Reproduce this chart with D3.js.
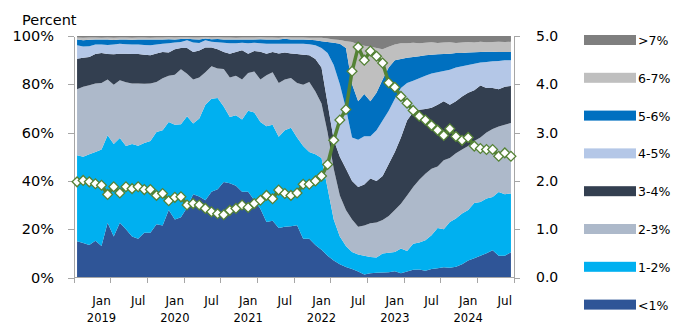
<!DOCTYPE html>
<html lang="en">
<head>
<meta charset="utf-8">
<title>Distribution by rate bucket</title>
<style>
  body { margin: 0; background: #fff; }
  .axis text, .label { font-family: "DejaVu Sans", Verdana, sans-serif; fill: #000; }
  .axis path, .axis line { stroke: #a6a6a6; shape-rendering: crispEdges; }
</style>
</head>
<body>
<div id="chart"></div>
<script src="https://cdn.jsdelivr.net/npm/d3@7/dist/d3.min.js"></script>
<script>

// monthly shares (%) Sep 2018 .. Aug 2024
var lt1 = [15,14.3,13.5,15.2,13,22.7,17,22.7,20,17,16,18.5,18.5,22,21.5,28,24,25,29,34.5,33.5,32,35.5,36.5,39.5,39,38,35.5,35.5,32,28.5,23,23.5,20.5,21,21.2,21.6,16,16,13.5,11.5,9,7,5.5,4.3,3.5,2.5,1.2,1.8,2,2.1,2.2,2.6,1.8,2.5,3.2,3.3,2.8,3.5,3.8,4.2,4,4.5,5.5,7,8,9,10,11.3,9,9,10.5];
var r12 = [35.6,35.7,37.5,36.8,40,36.2,38.3,35.1,34.5,38.3,38.6,37.2,38,38.3,39.5,36.4,39.2,38.5,37.8,29.3,32.3,39.5,38.5,37.8,31.3,27.5,29.2,29.9,33.5,36.3,35.9,39.6,39.7,37.8,40,40.8,36.4,38.5,36,37.5,38,28,17,11.5,8.7,7.1,7,7.8,6.7,6.3,7.8,8,8,10.2,8.5,10.8,11.2,12.6,14,16.7,15.8,19,19.9,21,20.9,22.9,22.3,22.7,22,26.4,25.5,24.3];
var r23 = [27.4,29,28.6,28.3,27.5,23.1,24.5,23.9,26.3,25,25.7,24.5,23.8,20.7,21.5,19.1,20.8,22.7,17.6,18.2,17,13.5,13.5,12.2,15.5,16.3,16.3,16.6,15.7,17,17.6,21.1,21.8,22.2,21,20.6,22.5,25.3,29,26,22.5,23,21,17,15,13.4,11.5,12.5,14,14.5,13.9,15.3,17.4,18.5,23,23.5,26,27.6,27.5,25.5,28.5,26.5,27.1,26.5,26.6,25.6,26.7,27.3,28.2,27.1,28.7,29.2];
var r34 = [12.6,12,11.7,12.2,12.5,10.5,12.6,11,11.9,12.2,12.2,12,11.7,11.8,10.9,9.7,10.5,8.8,10.6,11.4,11.2,10.2,7.7,8,7.1,9.9,9.9,12.1,8,8.5,11.5,9,8.4,12.3,11.2,10.2,12,12.4,11,13.5,15,12,12,16,17,16,16.5,17,18.5,17.2,18.2,21.5,24,27.5,31,31,29,26.8,25.3,25.5,24.5,22,21.5,22,22,21,21.5,18.5,17,15.5,15.8,15.3];
var r45 = [5.6,4.7,4.5,4,3.5,3.8,4.1,4.1,3.9,4,4,4.1,4.2,3.7,3.4,3.8,2.8,2.5,3.2,3.9,3.1,3,2.4,2.9,3.8,4.3,3.6,3.1,4.3,3.4,3.5,4.1,3.4,4,3.6,4,4.3,4.6,4.6,5.7,8,21,31,30,25,18,19.5,20,17.5,21,23,22,22,20.5,15.5,13,13,13.7,14.2,13.5,12.5,14.5,14,12.5,11.5,11,9.5,10.7,11,11.7,11,10.7];
var r56 = [2.3,2.5,2.6,2.1,2,2.3,1.8,1.8,1.9,1.9,2,2.3,2.3,2.1,1.7,1.7,1.3,1.3,0.7,1.4,1.4,0.8,1.1,1.4,1.4,1.6,1.5,1.4,1.5,1.4,1.7,1.7,1.8,1.7,2.1,1.8,1.8,1.7,1.8,2,2.8,4.5,9.2,16.8,25,22,16,17.5,14.5,15.5,17,18,16,12,10.5,9.8,9.1,8.5,7.7,7.4,7,6.7,6,5.5,5.2,4.8,4.4,4.3,4,3.7,3.4,3.4];
var r67 = [0.9,1.1,1,0.8,0.8,0.8,1,0.8,0.9,0.9,0.9,0.8,0.8,0.8,0.9,0.8,0.8,0.7,0.6,0.7,0.9,0.6,0.7,0.7,0.8,0.8,0.8,0.8,0.9,0.8,0.8,0.9,0.8,0.8,0.6,0.8,0.8,0.9,0.9,1.1,1.5,1.5,1.3,1.5,2.8,17.5,23.5,20,22.5,18.5,12.5,8.5,6.5,6.5,6,5.9,5.4,5.2,5.2,4.7,4.8,4.7,4.1,4.3,4.3,4,4.2,3.9,4,4.2,4.1,4.2];
var gt7 = [0.6,0.7,0.6,0.6,0.7,0.6,0.7,0.6,0.6,0.7,0.6,0.6,0.7,0.6,0.6,0.5,0.6,0.5,0.5,0.6,0.6,0.4,0.6,0.5,0.6,0.6,0.7,0.6,0.6,0.6,0.5,0.6,0.6,0.7,0.5,0.6,0.6,0.6,0.7,0.7,0.7,1,1.5,1.7,2.2,2.5,3.5,4,4.5,5,5.5,4.5,3.5,3,3,2.8,3,2.8,2.6,2.9,2.7,2.6,2.9,2.7,2.5,2.7,2.4,2.6,2.5,2.4,2.5,2.4];

// line on right axis
var rate = [1.98,2.01,1.98,1.94,1.91,1.72,1.88,1.75,1.88,1.84,1.88,1.82,1.82,1.70,1.74,1.59,1.66,1.67,1.50,1.53,1.50,1.43,1.36,1.32,1.30,1.39,1.43,1.50,1.45,1.53,1.60,1.70,1.63,1.81,1.74,1.70,1.75,1.93,1.93,2.00,2.10,2.34,2.84,3.26,3.48,4.27,4.77,4.50,4.69,4.58,4.44,4.03,3.94,3.75,3.61,3.46,3.34,3.26,3.15,3.05,2.94,3.08,2.92,2.84,2.90,2.72,2.67,2.65,2.65,2.51,2.58,2.51];

var seriesKeys = ["<1%", "1-2%", "2-3%", "3-4%", "4-5%", "5-6%", "6-7%", ">7%"];
var seriesVals = [lt1, r12, r23, r34, r45, r56, r67, gt7];
var colors = ["#2f5597", "#00b0f0", "#adb9ca", "#333f50", "#b4c7e7", "#0070c0", "#bfbfbf", "#7f7f7f"];

var leftTicks = [0, 20, 40, 60, 80, 100];
var rightTicks = [0, 1, 2, 3, 4, 5];

var months = d3.timeMonth.range(new Date(2018, 8, 1), new Date(2024, 8, 1));

var width = 673, height = 326;
var plot = {left: 74, right: 514, top: 36, bottom: 277.5};

var svg = d3.select("#chart").append("svg")
  .attr("width", width)
  .attr("height", height);

var x = d3.scaleBand().domain(d3.range(months.length)).range([plot.left, plot.right]).padding(0);
var bw = x.bandwidth();
function cx(i) { return x(i) + bw / 2; }

var yL = d3.scaleLinear().domain([0, 100]).range([plot.bottom, plot.top]);
var yR = d3.scaleLinear().domain([0, 5]).range([plot.bottom, plot.top]);

var table = months.map(function(m, i) {
  var row = {i: i};
  seriesKeys.forEach(function(k, j) { row[k] = seriesVals[j][i]; });
  return row;
});

var stack = d3.stack().keys(seriesKeys);
var layers = stack(table);

var area = d3.area()
  .x(function(d) { return cx(d.data.i); })
  .y0(function(d) { return yL(d[0]); })
  .y1(function(d) { return yL(d[1]); });

svg.append("g").selectAll("path")
  .data(layers)
  .enter().append("path")
  .attr("d", area)
  .attr("fill", function(d, i) { return colors[i]; });

// axes
var axL = svg.append("g")
  .attr("class", "axis")
  .attr("transform", "translate(" + plot.left + ",0)")
  .call(d3.axisLeft(yL).tickValues(leftTicks).tickSize(6).tickSizeOuter(0).tickPadding(14)
    .tickFormat(function(d) { return d + "%"; }));
axL.selectAll("text").style("font-size", "14.5px");

var axR = svg.append("g")
  .attr("class", "axis")
  .attr("transform", "translate(" + plot.right + ",0)")
  .call(d3.axisRight(yR).tickValues(rightTicks).tickSize(6).tickSizeOuter(0).tickPadding(16)
    .tickFormat(d3.format(".1f")));
axR.selectAll("text").style("font-size", "14px");

// bottom axis: ticks at every 6th month boundary, labels at Jan / Jul
var tickPos = d3.range(0, months.length + 1, 6).map(function(i) {
  return i < months.length ? x(i) : plot.right;
});
var axB = svg.append("g").attr("class", "axis");
axB.append("line")
  .attr("x1", plot.left).attr("x2", plot.right)
  .attr("y1", plot.bottom).attr("y2", plot.bottom);
axB.selectAll(".tk")
  .data(tickPos)
  .enter().append("line")
  .attr("class", "tk")
  .attr("x1", function(d) { return d; }).attr("x2", function(d) { return d; })
  .attr("y1", plot.bottom).attr("y2", plot.bottom + 5);

var labelled = months.map(function(m, i) { return {m: m, i: i}; })
  .filter(function(d) { return d.m.getMonth() === 0 || d.m.getMonth() === 6; });

axB.selectAll(".mon")
  .data(labelled)
  .enter().append("text")
  .attr("class", "mon")
  .attr("x", function(d) { return cx(d.i); })
  .attr("y", 305)
  .attr("text-anchor", "middle")
  .style("font-size", "12px")
  .text(function(d) { return d3.timeFormat("%b")(d.m); });

axB.selectAll(".yr")
  .data(labelled.filter(function(d) { return d.m.getMonth() === 0; }))
  .enter().append("text")
  .attr("class", "yr")
  .attr("x", function(d) { return cx(d.i); })
  .attr("y", 322)
  .attr("text-anchor", "middle")
  .style("font-size", "11.5px")
  .text(function(d) { return d3.timeFormat("%Y")(d.m); });

svg.append("text")
  .attr("class", "label")
  .attr("x", 22)
  .attr("y", 25)
  .style("font-size", "14.5px")
  .text("Percent");

// line with diamond markers
var line = d3.line()
  .x(function(d, i) { return cx(i); })
  .y(function(d) { return yR(d); });

svg.append("path")
  .datum(rate)
  .attr("d", line)
  .attr("fill", "none")
  .attr("stroke", "#548235")
  .attr("stroke-width", 3.5)
  .attr("stroke-linejoin", "round");

svg.append("g").selectAll("path")
  .data(rate)
  .enter().append("path")
  .attr("d", d3.symbol().type(d3.symbolSquare).size(48))
  .attr("transform", function(d, i) { return "translate(" + cx(i) + "," + yR(d) + ") rotate(45)"; })
  .attr("fill", "#fff")
  .attr("stroke", "#548235")
  .attr("stroke-width", 1.3);

// legend, top to bottom: >7% ... <1%
var legend = svg.append("g").selectAll("g")
  .data(seriesKeys.slice().reverse())
  .enter().append("g")
  .attr("transform", function(d, i) { return "translate(584," + (40 + i * 37.8) + ")"; });

legend.append("rect")
  .attr("x", 0).attr("y", -5)
  .attr("width", 52).attr("height", 10)
  .attr("fill", function(d) { return colors[seriesKeys.indexOf(d)]; });

legend.append("text")
  .attr("class", "label")
  .attr("x", 54)
  .attr("y", 5)
  .style("font-size", "12.5px")
  .text(function(d) { return d; });

</script>
</body>
</html>
